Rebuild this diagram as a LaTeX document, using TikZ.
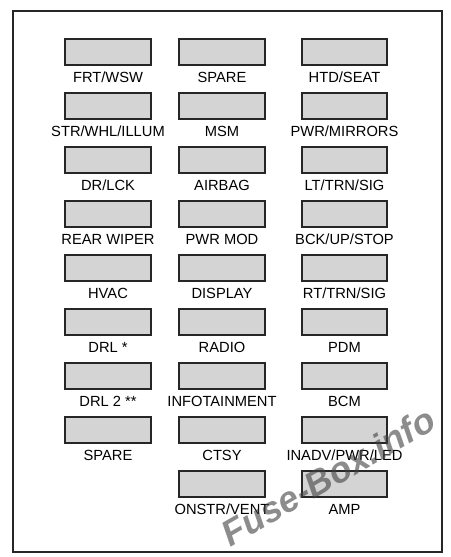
\documentclass[tikz,border=0pt]{standalone}
\usepackage{fontspec}
\setmainfont{Liberation Sans}
\begin{document}
\begin{tikzpicture}[x=1pt,y=-1pt,
  fusebox/.style={draw=black!85, fill=black!17, line width=1.2pt},
  fuselabel/.style={anchor=base, inner sep=0pt, font=\fontsize{14.7}{16}\selectfont, text=black},
  frame/.style={draw=black!85, line width=2pt}]
\useasboundingbox (0,0) rectangle (450,557);
\fill[white] (0,0) rectangle (450,557);
\draw[frame] (12.5,10.5) rectangle (441.5,551.5);
% column 1
\foreach \t [count=\i from 0] in {FRT/WSW,STR/WHL/ILLUM,DR/LCK,REAR WIPER,HVAC,DRL *,DRL 2 **,SPARE}{
  \draw[fusebox] (65,39+54*\i) rectangle (151,65+54*\i);
  \node[fuselabel] (a\i) at (108,82.5+54*\i) {\t};
}
% column 2
\foreach \t [count=\i from 0] in {SPARE,MSM,AIRBAG,PWR MOD,DISPLAY,RADIO,INFOTAINMENT,CTSY,ONSTR/VENT}{
  \draw[fusebox] (179,39+54*\i) rectangle (265,65+54*\i);
  \node[fuselabel] (b\i) at (222,82.5+54*\i) {\t};
}
% column 3
\foreach \t [count=\i from 0] in {HTD/SEAT,PWR/MIRRORS,LT/TRN/SIG,BCK/UP/STOP,RT/TRN/SIG,PDM,BCM,INADV/PWR/LED,AMP}{
  \draw[fusebox] (302,39+54*\i) rectangle (387,65+54*\i);
  \node[fuselabel] (c\i) at (344.5,82.5+54*\i) {\t};
}
% watermark
\node[rotate=30, text=black!75, opacity=0.6, font=\fontsize{36}{38}\selectfont\bfseries\itshape] (wm) at (328,476) {Fuse-Box.info};
\end{tikzpicture}
\end{document}
